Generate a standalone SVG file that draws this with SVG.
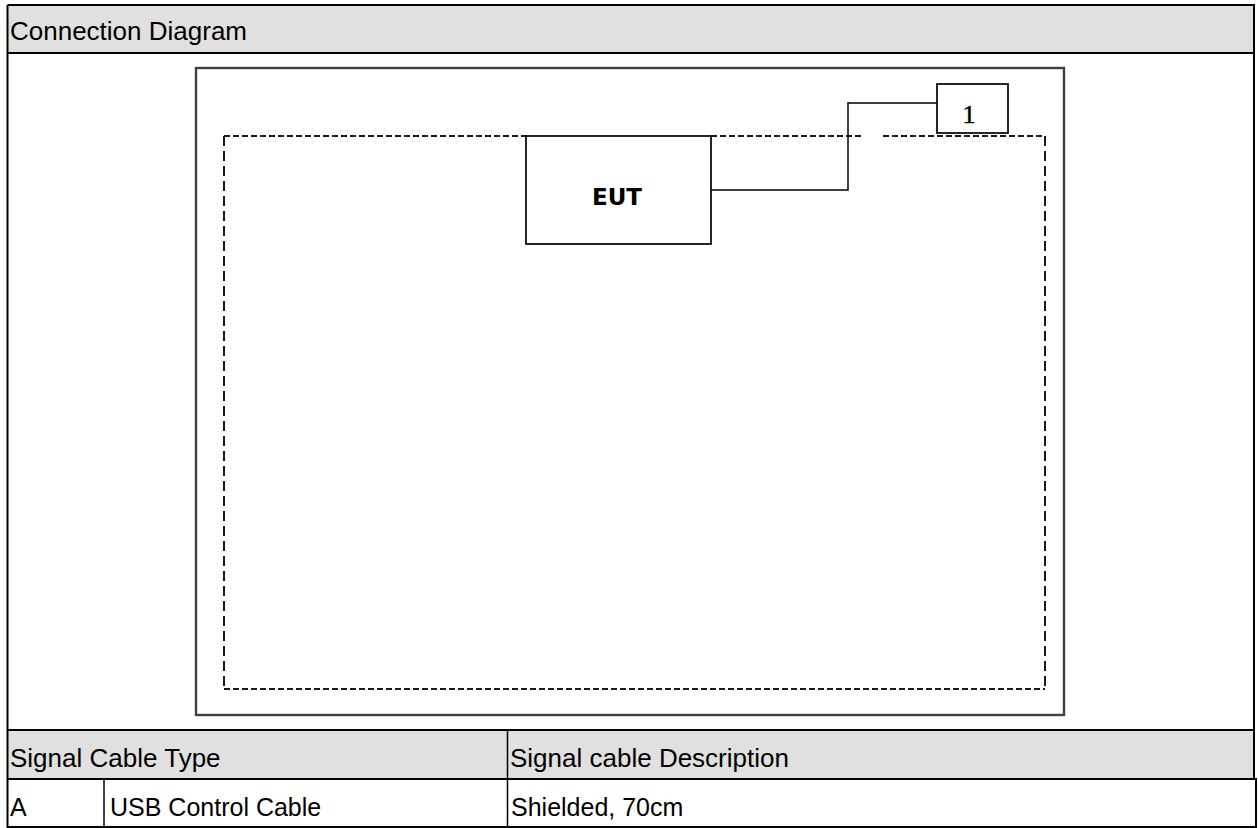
<svg xmlns="http://www.w3.org/2000/svg" width="1258" height="828" viewBox="0 0 1258 828">
<style>
.hdr{fill:#e0e0e0}
.cell{font-family:"Liberation Sans",Arial,sans-serif;font-size:25px;fill:#000}
.big{font-size:26px}
.bl{stroke:#000;stroke-width:2;fill:none}
.thin{stroke:#000;stroke-width:1.5;fill:none}
.frame{stroke:#404040;stroke-width:2.4;fill:none}
.dh{stroke:#1a1a1a;stroke-width:2;stroke-dasharray:6 3;fill:none}
.dv{stroke:#1a1a1a;stroke-width:2;stroke-dasharray:10 5;fill:none}
.box{stroke:#000;stroke-width:1.7;fill:#fff}
</style>
<rect width="1258" height="828" fill="#fff"/>
<g id="table">
<rect class="hdr" x="7" y="5" width="1247" height="48"/>
<rect class="hdr" x="7" y="730" width="1247" height="49"/>
<path class="bl" d="M7.5 5 H1254 V779 M7.5 5 V827 H1256 V779 H7.5 M7.5 53 H1254 M7.5 730 H1254"/>
<path class="thin" d="M104 779 V827 M507.5 730 V827"/>
<text class="cell big" x="10" y="40">Connection Diagram</text>
<text class="cell big" x="10" y="767">Signal Cable Type</text>
<text class="cell big" x="510" y="767">Signal cable Description</text>
<text class="cell" x="10" y="816">A</text>
<text class="cell" x="110" y="816">USB Control Cable</text>
<text class="cell" x="511" y="816">Shielded, 70cm</text>
</g>
<g id="frame">
<rect class="frame" x="196" y="68" width="868" height="647"/>
</g>
<g id="boundary">
<path class="dh" d="M224 136 H526 M711 136 H861 M883 136 H1045 M224 689 H1045"/>
<path class="dv" d="M224 136 V689 M1045 136 V689"/>
</g>
<g id="connectors">
<path class="thin" d="M711 190 H848 V103 H937"/>
</g>
<g id="EUT">
<rect class="box" x="526" y="136" width="185" height="108"/>
<text x="617" y="205" text-anchor="middle" font-family="DejaVu Sans, Verdana, sans-serif" font-weight="bold" font-size="23">EUT</text>
</g>
<g id="node1">
<rect class="box" x="937" y="84" width="71" height="49"/>
<text x="969" y="123" text-anchor="middle" font-family="Liberation Serif, Times New Roman, serif" font-size="26" stroke="#000" stroke-width="0.5">1</text>
</g>
</svg>
